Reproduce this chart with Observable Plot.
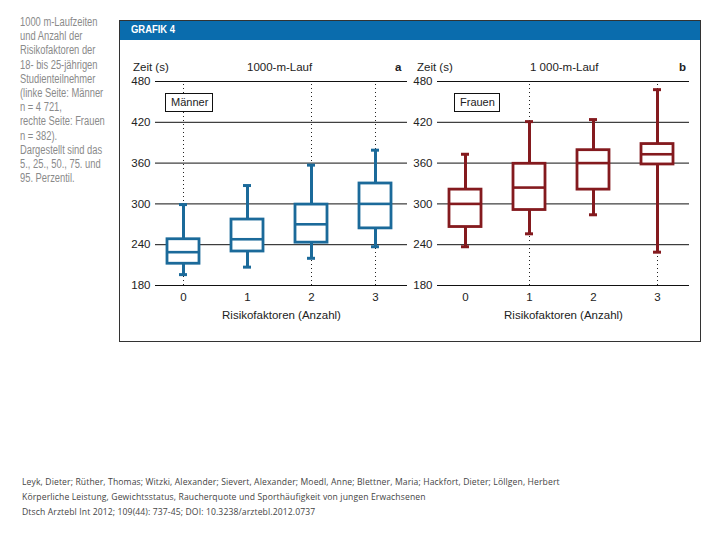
<!DOCTYPE html>
<html><head><meta charset="utf-8">
<script src="https://cdn.jsdelivr.net/npm/d3@7"></script>
<script src="https://cdn.jsdelivr.net/npm/@observablehq/plot@0.6"></script>
<style>
body{margin:0;background:#fff;}
#page{position:relative;width:720px;height:540px;overflow:hidden;font-family:"Liberation Sans",Arial,sans-serif;color:#222;}
.abs{position:absolute;white-space:nowrap;}
#side{left:20px;top:15px;font-size:12px;line-height:14.2px;color:#8a8a8a;transform:scaleX(0.78);transform-origin:0 0;}
#frame{left:119px;top:20px;width:580px;height:320px;border:1px solid #333;}
#header{left:120px;top:21px;width:580px;height:19px;background:#0a6cad;}
#header span{position:absolute;left:11px;top:2px;color:#fff;font-weight:bold;font-size:11.5px;transform:scaleX(0.82);transform-origin:0 0;}
.ttl{font-size:11.5px;line-height:14px;top:60px;color:#222;}
.lg{border:1px solid #111;background:#fff;font-size:11px;line-height:17px;padding:0 4px 0 5px;top:93px;}
#caption{left:22px;top:475px;font-family:"Open Sans","Liberation Sans",sans-serif;font-size:8.6px;letter-spacing:0.12px;line-height:15px;color:#444;}
.plot{position:absolute;top:75px;}
</style></head><body><div id="page">
<div class="abs" id="side">1000 m-Laufzeiten<br>und Anzahl der<br>Risikofaktoren der<br>18- bis 25-jährigen<br>Studienteilnehmer<br>(linke Seite: Männer<br>n = 4 721,<br>rechte Seite: Frauen<br>n = 382).<br>Dargestellt sind das<br>5., 25., 50., 75. und<br>95. Perzentil.</div>
<div class="abs" id="frame"></div>
<div class="abs" id="header"><span>GRAFIK 4</span></div>
<div id="leftplot" class="plot" style="left:120px"></div>
<div id="rightplot" class="plot" style="left:402px"></div>
<div class="abs ttl" style="left:133px">Zeit (s)</div>
<div class="abs ttl" style="left:247px">1000-m-Lauf</div>
<div class="abs ttl" style="left:395px;font-weight:bold">a</div>
<div class="abs ttl" style="left:417px">Zeit (s)</div>
<div class="abs ttl" style="left:530px">1 000-m-Lauf</div>
<div class="abs ttl" style="left:679px;font-weight:bold">b</div>
<div class="abs lg" style="left:165px">Männer</div>
<div class="abs lg" style="left:454px">Frauen</div>
<div class="abs" id="caption">Leyk, Dieter; Rüther, Thomas; Witzki, Alexander; Sievert, Alexander; Moedl, Anne; Blettner, Maria; Hackfort, Dieter; Löllgen, Herbert<br>Körperliche Leistung, Gewichtsstatus, Raucherquote und Sporthäufigkeit von jungen Erwachsenen<br>Dtsch Arztebl Int 2012; 109(44): 737-45; DOI: 10.3238/arztebl.2012.0737</div>
</div>
<script>
const categories = ["0", "1", "2", "3"];
const menP5  = [196, 207, 220, 237];
const menP25 = [212, 230, 243, 264];
const menP50 = [229, 248, 270, 300];
const menP75 = [248, 277, 299, 330];
const menP95 = [299, 327, 357, 379];
const womenP5  = [237, 256, 284, 229];
const womenP25 = [266, 291, 321, 358];
const womenP50 = [300, 324, 360, 373];
const womenP75 = [321, 359, 379, 388];
const womenP95 = [373, 421, 424, 468];
const yTicks = [180, 240, 300, 360, 420, 480];
const menDotted = ["0", "2", "3"];
const womenDotted = ["1", "3"];
const xLabel = "Risikofaktoren (Anzahl)";

function panel(p5, p25, p50, p75, p95, dotted, color) {
  const rows = categories.map((c, i) => ({cat: c, p5: p5[i], p25: p25[i], p50: p50[i], p75: p75[i], p95: p95[i]}));
  const yMin = yTicks[0], yMax = yTicks[yTicks.length - 1];
  return Plot.plot({
    width: 290, height: 250,
    marginLeft: 35, marginRight: 3, marginTop: 6, marginBottom: 40,
    style: {fontFamily: '"Liberation Sans",Arial,sans-serif', fontSize: "11.5px", color: "#222", background: "transparent", overflow: "visible"},
    x: {type: "band", domain: categories, paddingInner: 0.5, paddingOuter: 0.17, insetRight: 5,
        label: xLabel, labelAnchor: "center", labelOffset: 33, tickSize: 0, tickPadding: 7},
    y: {domain: [yMin, yMax], ticks: yTicks, tickSize: 0, tickPadding: 5, label: null},
    marks: [
      Plot.ruleY(yTicks, {stroke: "#111", strokeWidth: 1}),
      Plot.ruleX(dotted, {x: d => d, y1: yMin, y2: yMax, stroke: "#222", strokeDasharray: "1,3"}),
      Plot.ruleX(rows, {x: "cat", y1: "p5", y2: "p95", stroke: color, strokeWidth: 3}),
      Plot.tickY(rows, {x: "cat", y: "p5", stroke: color, strokeWidth: 3, insetLeft: 12, insetRight: 12}),
      Plot.tickY(rows, {x: "cat", y: "p95", stroke: color, strokeWidth: 3, insetLeft: 12, insetRight: 12}),
      Plot.barY(rows, {x: "cat", y1: "p25", y2: "p75", fill: "white", stroke: color, strokeWidth: 2.8}),
      Plot.tickY(rows, {x: "cat", y: "p50", stroke: color, strokeWidth: 2.6})
    ]
  });
}
document.getElementById("leftplot").append(panel(menP5, menP25, menP50, menP75, menP95, menDotted, "#1b6a9a"));
document.getElementById("rightplot").append(panel(womenP5, womenP25, womenP50, womenP75, womenP95, womenDotted, "#841a1e"));
</script>
</body></html>
